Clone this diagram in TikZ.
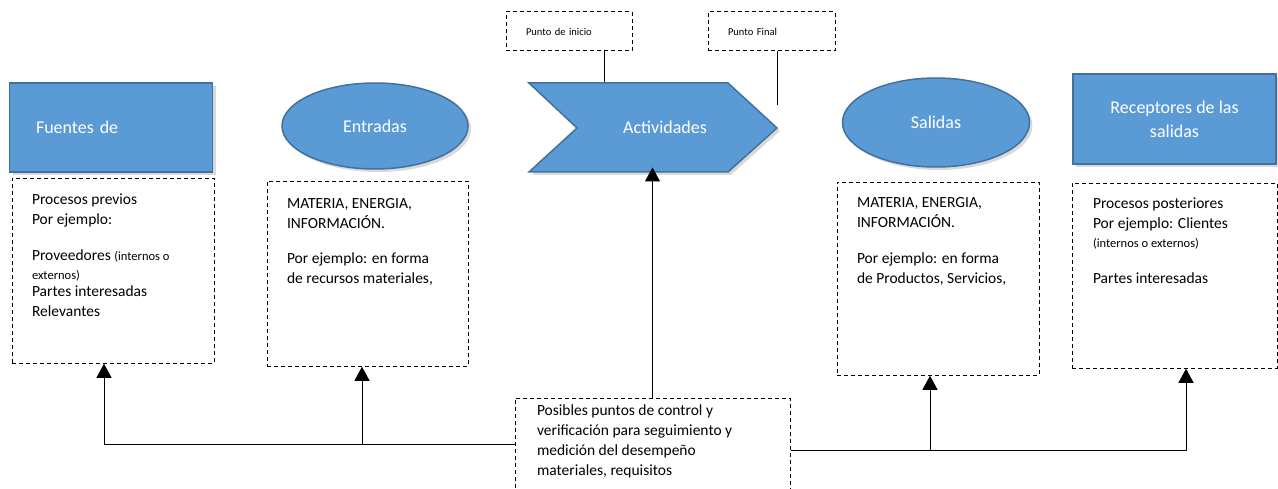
\documentclass[tikz,border=0pt]{standalone}
\usepackage{fontspec}
\setmainfont{Carlito}
\usetikzlibrary{arrows.meta, shapes.geometric, shadows, positioning}
\definecolor{azul}{HTML}{5B9BD5}
\definecolor{borde}{HTML}{41719C}
\newcommand{\pequena}{\fontsize{12.5}{15}\selectfont}

\begin{document}
\begin{tikzpicture}[
            x = 1pt, y = -1pt, % one unit per pixel, y going down
            > = {Triangle[width=15pt,length=14pt]}, % arrow head style
            line width = 1pt,
            font = \fontsize{15.5}{20}\selectfont,
        ]
        \clip (0,0) rectangle (1278,489);

        \tikzstyle{titulo}=[
            text = white,
            inner sep = 0pt,
            font = \fontsize{18}{24}\selectfont
        ]
        \tikzstyle{forma}=[
            titulo,
            fill = azul,
            draw = borde,
            line width = 1.5pt,
            drop shadow = {opacity=0.3, shadow xshift=3pt, shadow yshift=-3pt}
        ]
        \tikzstyle{caja}=[
            draw,
            dash pattern = on 4pt off 3pt,
            inner sep = 0pt
        ]
        \tikzstyle{texto}=[
            align = left,
            inner sep = 0pt,
            anchor = north west
        ]

        % shapes
        \node[forma, minimum width=203pt, minimum height=89pt, text width=150pt, align=left] (fuentes) at (111,127.5) {Fuentes de};
        \node[forma, ellipse, minimum width=186pt, minimum height=86pt] (entradas) at (375,126) {Entradas};
        \draw[forma] (529,83) -- (728,83) -- (777,128) -- (728,172) -- (529,172) -- (577,128) -- cycle;
        \node[titulo, minimum width=150pt, minimum height=89pt] (act) at (665,127.5) {Actividades};
        \node[forma, ellipse, minimum width=187pt, minimum height=89pt] (salidas) at (936,122.5) {Salidas};
        \node[forma, minimum width=203pt, minimum height=90pt, align=center] (receptores) at (1174.5,119) {Receptores de las\\ salidas};

        % dashed boxes
        \node[caja, minimum width=202pt, minimum height=185pt] (fuentesbox) [below=5pt of fuentes, xshift=2pt] {};
        \node[caja, minimum width=201pt, minimum height=185pt] (entradasbox) [below=11pt of entradas, xshift=-7.5pt] {};
        \node[caja, minimum width=202pt, minimum height=193pt] (salidasbox) [below=14pt of salidas, xshift=2pt] {};
        \node[caja, minimum width=205pt, minimum height=185pt] (receptoresbox) [below=18pt of receptores] {};
        \node[caja, minimum width=275pt, minimum height=92pt] (control) at (652.5,444) {};
        \node[caja, minimum width=126pt, minimum height=39pt, text width=86pt, inner xsep=20pt, align=left, font=\fontsize{10.5}{12}\selectfont] (inicio) at (569,31.5) {Punto de inicio};
        \node[caja, minimum width=127pt, minimum height=39pt, text width=87pt, inner xsep=20pt, align=left, font=\fontsize{10.5}{12}\selectfont] (final) at (771.5,31.5) {Punto Final};

        % texts
        \node[texto] (fuentestxt) at ([xshift=20pt, yshift=-16pt]fuentesbox.north west) {Procesos previos\\ Por ejemplo:\\[16pt] Proveedores {\pequena (internos o}\\[-1pt] {\pequena externos)}\\[-3pt] Partes interesadas\\ Relevantes};
        \node[texto] (entradastxt) at ([xshift=20pt, yshift=-17pt]entradasbox.north west) {MATERIA, ENERGIA,\\ INFORMACIÓN.\\[15pt] Por ejemplo: en forma\\ de recursos materiales,};
        \node[texto] (salidastxt) at ([xshift=20pt, yshift=-15pt]salidasbox.north west) {MATERIA, ENERGIA,\\ INFORMACIÓN.\\[16pt] Por ejemplo: en forma\\ de Productos, Servicios,};
        \node[texto] (receptorestxt) at ([xshift=21pt, yshift=-15pt]receptoresbox.north west) {Procesos posteriores\\ Por ejemplo: Clientes\\[-1pt] {\pequena (internos o externos)}\\[16pt] Partes interesadas};
        \node[texto] (controltxt) at ([xshift=22pt, yshift=-7pt]control.north west) {Posibles puntos de control y\\ verificación para seguimiento y\\ medición del desempeño\\ materiales, requisitos};

        % connectors
        \coordinate (finalend) at (777,105);
        \coordinate (derecha) at ([yshift=-6pt]control.east);
        \draw ([xshift=35pt]inicio.south) -- ([xshift=35pt]inicio.south |- act.north);
        \draw ([xshift=5.5pt]final.south) -- (finalend);
        \draw[->, shorten >=-5pt] (control.north) -- (control.north |- act.south);
        \draw[->] (control.west) -| ([xshift=-9pt]fuentesbox.south);
        \draw[->] ([xshift=-5.5pt]entradasbox.south |- control.west) -- ([xshift=-5.5pt]entradasbox.south);
        \draw[->] (derecha) -| ([xshift=11.5pt]receptoresbox.south);
        \draw[->] ([xshift=-8pt]salidasbox.south |- derecha) -- ([xshift=-8pt]salidasbox.south);
    \end{tikzpicture}
\end{document}
